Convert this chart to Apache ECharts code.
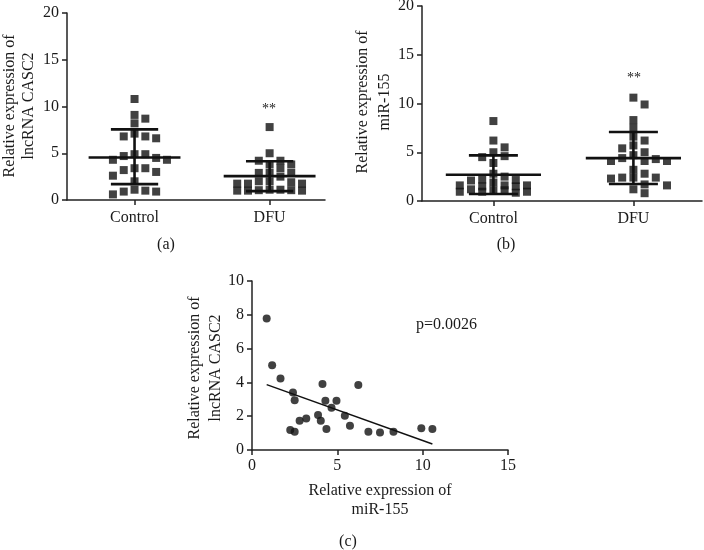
<!DOCTYPE html>
<html>
<head>
<meta charset="utf-8">
<script src="https://cdn.jsdelivr.net/npm/echarts@6/dist/echarts.min.js"></script>
<style>html,body{margin:0;padding:0;background:#fff}#c{width:704px;height:550px}</style>
</head>
<body>
<div id="c"></div>
<script>
// ---------- data ----------
const groups = ['Control', 'DFU'];
// (a) lncRNA CASC2
const casc2Control = [10.8, 8.7, 9.1, 8.2, 6.8, 6.6, 6.8, 7.1, 4.9, 4.3, 4.7, 4.5, 4.9, 4.3, 3.4, 2.6, 3.2, 3.4, 3.0, 2.0, 1.1, 0.9, 0.6, 0.9, 1.0];
const casc2DFU = [7.8, 5.0, 4.2, 3.8, 3.8, 4.2, 3.4, 2.9, 2.9, 2.9, 2.5, 2.0, 1.75, 1.75, 1.75, 1.9, 2.0, 1.1, 1.05, 1.0, 1.0, 1.0, 1.05, 1.1];
const casc2Mean = [4.55, 2.55];
const casc2Upper = [7.55, 4.15];
const casc2Lower = [1.7, 0.95];
// (b) miR-155
const mirControl = [8.2, 6.2, 5.5, 4.6, 4.5, 5.0, 3.9, 2.8, 2.5, 2.2, 1.9, 2.1, 2.15, 1.2, 1.6, 1.1, 1.1, 1.6, 0.95, 1.6, 0.85, 1.5, 0.95, 1.5, 0.95];
const mirDFU = [10.6, 9.9, 8.3, 7.5, 6.6, 6.2, 5.7, 5.4, 5.0, 4.7, 4.4, 4.1, 4.1, 4.1, 4.3, 3.2, 2.8, 2.4, 2.4, 2.3, 2.4, 1.6, 1.7, 1.2, 0.8];
const mirMean = [2.7, 4.4];
const mirUpper = [4.68, 7.07];
const mirLower = [0.72, 1.75];
// (c) correlation
const corrMir = [0.86, 1.18, 1.67, 2.4, 2.5, 2.24, 2.5, 2.79, 3.18, 3.87, 4.03, 4.13, 4.36, 4.3, 4.66, 4.95, 5.44, 5.74, 6.23, 6.82, 7.5, 8.29, 9.92, 10.57];
const corrCasc2 = [7.78, 5.02, 4.23, 3.4, 2.95, 1.18, 1.08, 1.73, 1.87, 2.07, 1.73, 3.9, 1.24, 2.91, 2.5, 2.91, 2.03, 1.44, 3.84, 1.08, 1.04, 1.08, 1.28, 1.24];
const fitIntercept = 4.18;
const fitSlope = -0.362;
const pText = 'p=0.0026';
const sigText = '**';

// ---------- helpers ----------
const FONT = '"Liberation Serif", "DejaVu Serif", serif';
const INK = '#1a1a1a';

// column-scatter layout: spread points sideways in slots, capped width
function swarm(values, center, step, tol, maxSlot) {
  const placed = [];
  const out = new Array(values.length);
  const order = values.map((v, i) => i).sort((a, b) => values[b] - values[a]);
  const slots = [0];
  for (let s = 1; s <= maxSlot; s++) { slots.push(s, -s); }
  order.forEach(i => {
    const v = values[i];
    let best = null, bestGap = -1;
    for (const slot of slots) {
      const gap = placed.filter(p => p.slot === slot).reduce((m, p) => Math.min(m, Math.abs(p.v - v)), Infinity);
      if (gap >= tol) { best = slot; break; }
      if (gap > bestGap) { bestGap = gap; best = slot; }
    }
    placed.push({ slot: best, v });
    out[i] = [center + best * step, v];
  });
  return out;
}

function statsData(mean, upper, lower) {
  return groups.map((g, i) => [i + 1, mean[i], upper[i], lower[i]]);
}

function seg(a, b, w) {
  return { type: 'line', shape: { x1: a[0], y1: a[1], x2: b[0], y2: b[1] }, style: { stroke: '#111', lineWidth: w } };
}
function renderStats(params, api) {
  const x = api.value(0), m = api.value(1), u = api.value(2), l = api.value(3);
  const hw = 0.34, hs = 0.175;
  const p = (a, b) => api.coord([a, b]);
  return {
    type: 'group', children: [
      seg(p(x - hw, m), p(x + hw, m), 2.6),
      seg(p(x - hs, u), p(x + hs, u), 2.6),
      seg(p(x - hs, l), p(x + hs, l), 2.6),
      seg(p(x, u), p(x, l), 2.6)
    ]
  };
}

const axisLineStyle = { show: true, lineStyle: { color: '#222', width: 1.5 } };
const tickStyle = { show: true, length: 5, lineStyle: { color: '#222', width: 1.5 } };
const labelStyle = { color: INK, fontFamily: FONT, fontSize: 16 };

function catX(gridIndex, min, max) {
  return {
    type: 'value', gridIndex, min, max,
    axisLine: axisLineStyle,
    axisTick: Object.assign({}, tickStyle, { customValues: [1, 2] }),
    axisLabel: Object.assign({}, labelStyle, { margin: 10, customValues: [1, 2], formatter: v => groups[Math.round(v) - 1] || '' }),
    splitLine: { show: false }
  };
}
function valY(gridIndex, max, interval) {
  return {
    type: 'value', gridIndex, min: 0, max, interval,
    axisLine: axisLineStyle, axisTick: tickStyle,
    axisLabel: Object.assign({}, labelStyle, { margin: 8 }),
    splitLine: { show: false }
  };
}

const sq = { symbol: 'square', symbolSize: 8, itemStyle: { color: '#111' } };

function txt(text, x, y, opts) {
  return Object.assign({
    type: 'text', x, y,
    style: Object.assign({ text, fill: INK, font: '16px ' + FONT, textAlign: 'center', textVerticalAlign: 'middle' }, (opts && opts.style) || {})
  }, (opts && opts.el) || {});
}

const STEP = 0.08, TOL = 0.8, MAXS = 3;

const chart = echarts.init(document.getElementById('c'), null, { renderer: 'canvas' });
chart.setOption({
  backgroundColor: '#fff',
  animation: false,
  grid: [
    { left: 67, top: 13, width: 258, height: 187, outerBoundsMode: 'none' },
    { left: 422, top: 6, width: 280, height: 195, outerBoundsMode: 'none' },
    { left: 252, top: 281, width: 256, height: 169, outerBoundsMode: 'none' }
  ],
  xAxis: [
    catX(0, 0.5, 2.41),
    catX(1, 0.49, 2.49),
    {
      type: 'value', gridIndex: 2, min: 0, max: 15, interval: 5,
      axisLine: axisLineStyle, axisTick: tickStyle,
      axisLabel: Object.assign({}, labelStyle, { margin: 8 }), splitLine: { show: false }
    }
  ],
  yAxis: [valY(0, 20, 5), valY(1, 20, 5), valY(2, 10, 2)],
  series: [
    Object.assign({ type: 'scatter', xAxisIndex: 0, yAxisIndex: 0, data: swarm(casc2Control, 1, STEP, TOL, MAXS) }, sq),
    Object.assign({ type: 'scatter', xAxisIndex: 0, yAxisIndex: 0, data: swarm(casc2DFU, 2, STEP, TOL, MAXS) }, sq),
    { type: 'custom', xAxisIndex: 0, yAxisIndex: 0, renderItem: renderStats, data: statsData(casc2Mean, casc2Upper, casc2Lower), z: 3 },
    Object.assign({ type: 'scatter', xAxisIndex: 1, yAxisIndex: 1, data: swarm(mirControl, 1, STEP, TOL, MAXS) }, sq),
    Object.assign({ type: 'scatter', xAxisIndex: 1, yAxisIndex: 1, data: swarm(mirDFU, 2, STEP, TOL, MAXS) }, sq),
    { type: 'custom', xAxisIndex: 1, yAxisIndex: 1, renderItem: renderStats, data: statsData(mirMean, mirUpper, mirLower), z: 3 },
    {
      type: 'scatter', xAxisIndex: 2, yAxisIndex: 2, symbol: 'circle', symbolSize: 8, itemStyle: { color: '#111' },
      data: corrMir.map((x, i) => [x, corrCasc2[i]])
    },
    {
      type: 'line', xAxisIndex: 2, yAxisIndex: 2, symbol: 'none', lineStyle: { color: '#111', width: 1.5 },
      data: [Math.min(...corrMir), Math.max(...corrMir)].map(x => [x, fitIntercept + fitSlope * x])
    }
  ],
  graphic: [
    txt('Relative expression of\nlncRNA CASC2', 19, 106, { el: { rotation: Math.PI / 2 }, style: { lineHeight: 19 } }),
    txt('Relative expression of\nmiR-155', 374, 102, { el: { rotation: Math.PI / 2 }, style: { lineHeight: 22 } }),
    txt('Relative expression of\nlncRNA CASC2', 205, 368, { el: { rotation: Math.PI / 2 }, style: { lineHeight: 21 } }),
    txt('Relative expression of\nmiR-155', 380, 500, { style: { lineHeight: 19 } }),
    txt(sigText, 269, 109, { style: { font: '14px ' + FONT } }),
    txt(sigText, 634, 78, { style: { font: '14px ' + FONT } }),
    txt(pText, 416, 325, { style: { textAlign: 'left' } }),
    txt('(a)', 166, 245),
    txt('(b)', 506, 245),
    txt('(c)', 348, 542)
  ]
});
</script>
</body>
</html>
